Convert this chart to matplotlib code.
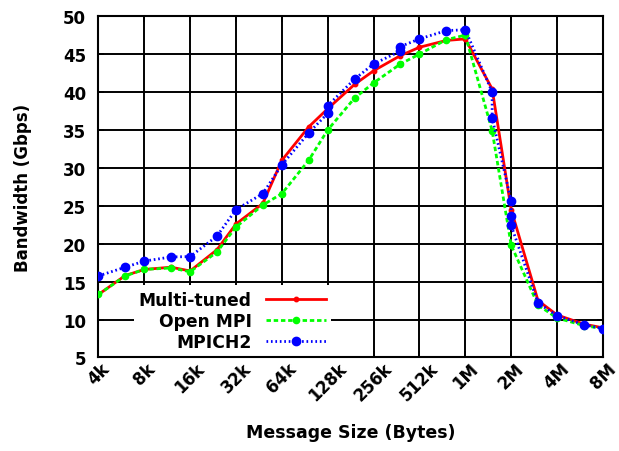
import numpy as np
import matplotlib
matplotlib.use("Agg")
from matplotlib import pyplot as plt
from matplotlib.transforms import ScaledTranslation

# message sizes in KB
sizes_k = [4, 6, 8, 12, 16, 24, 32, 48, 64, 96, 128, 192, 256, 384, 512, 768,
           1024, 1536, 2048, 3072, 4096, 6144, 8192]
multi_tuned = [13.3, 15.8, 16.6, 16.9, 16.4, 19.2, 22.6, 25.3, 31.0, 35.4, 37.8,
               41.0, 42.8, 44.8, 45.9, 46.8, 47.0, 40.4, 24.5, 12.5, 10.6, 9.4, 8.9]
open_mpi = [13.3, 15.75, 16.6, 16.8, 16.3, 18.9, 22.2, 25.1, 26.6, 31.0, 35.0,
            39.2, 41.2, 43.7, 45.0, 46.9, 47.5, 34.9, 19.8, 11.9, 10.2, 9.2, 8.8]

# MPICH2 has a few repeated sizes
mpich2_k = [4, 6, 8, 12, 16, 24, 32, 48, 64, 96, 128, 128, 192, 256, 384, 384,
            512, 768, 1024, 1536, 1536, 2048, 2048, 2048, 3072, 4096, 6144, 8192]
mpich2 = [15.75, 16.9, 17.7, 18.25, 18.3, 21.0, 24.5, 26.6, 30.4, 34.6, 37.2, 38.2,
          41.7, 43.7, 45.4, 46.0, 47.0, 48.1, 48.2, 40.0, 36.6, 25.6, 23.7, 22.4,
          12.2, 10.5, 9.3, 8.8]

tick_k = [4, 8, 16, 32, 64, 128, 256, 512, 1024, 2048, 4096, 8192]
tick_labels = ['4k', '8k', '16k', '32k', '64k', '128k', '256k', '512k',
               '1M', '2M', '4M', '8M']

plt.rcParams['font.family'] = 'DejaVu Sans'
plt.rcParams['font.weight'] = 'bold'
plt.rcParams['axes.labelweight'] = 'bold'
plt.rcParams['font.size'] = 12

fig = plt.figure(figsize=(6.19, 4.52), dpi=100)
ax = fig.add_axes([0.159, 0.207, 0.815, 0.755])

ax.plot(sizes_k, multi_tuned, color='#ff0000', lw=2.0, ls='-',
        marker='o', ms=3.2, label='Multi-tuned', zorder=2)
ax.plot(sizes_k, open_mpi, color='#00ff00', lw=2.0, ls=(0, (1.6, 1.0)),
        marker='o', ms=4.5, label='Open MPI', zorder=3)
ax.plot(mpich2_k, mpich2, color='#0000ff', lw=2.0, ls=(0, (0.6, 1.0)),
        marker='o', ms=6, label='MPICH2', zorder=4)

ax.set_xscale('log', base=2)
ax.set_xlim(4, 8192)
ax.set_ylim(5, 50)
ax.set_xticks(tick_k)
ax.set_xticklabels(tick_labels, rotation=45, ha='center', va='top')
ax.minorticks_off()
ax.set_yticks(np.arange(5, 51, 5))

# nudge rotated labels a bit right/down like the original
shift = ScaledTranslation(0.05, -0.03, fig.dpi_scale_trans)
for lab in ax.get_xticklabels():
    lab.set_transform(lab.get_transform() + shift)

ax.set_axisbelow(True)
ax.grid(True, color='black', lw=1.4)
ax.tick_params(direction='in', top=True, right=True, length=4, width=1.2)
ax.tick_params(axis='y', pad=9)
ax.tick_params(axis='x', pad=1)
for s in ax.spines.values():
    s.set_linewidth(1.5)

ax.set_xlabel('Message Size (Bytes)', fontsize=12.5, labelpad=14)
ax.set_ylabel('Bandwidth (Gbps)', fontsize=12, labelpad=22)

leg = ax.legend(loc='lower left', bbox_to_anchor=(0.068, 0.0), markerfirst=False,
                frameon=True, facecolor='white', edgecolor='none', framealpha=1,
                fancybox=False, handlelength=3.5, handletextpad=0.85,
                labelspacing=0.2, borderpad=0.3, borderaxespad=0.05,
                prop={'weight': 'bold', 'size': 12.3})
leg.set_zorder(1.5)

fig.savefig('out.png', dpi=100)
